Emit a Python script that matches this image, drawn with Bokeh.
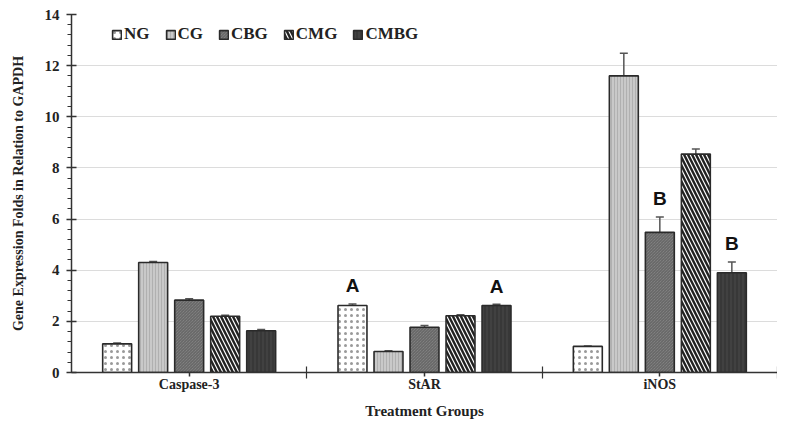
from bokeh.plotting import figure
from bokeh.models import (ColumnDataSource, Whisker, FixedTicker, Legend, LegendItem,
                          LabelSet)
from bokeh.embed import file_html
from bokeh.resources import INLINE
from bokeh.core.properties import value

genes = ["Caspase-3", "StAR", "iNOS"]
groups = ["NG", "CG", "CBG", "CMG", "CMBG"]
NG = [1.12, 2.62, 1.02]
CG = [4.30, 0.82, 11.60]
CBG = [2.83, 1.77, 5.48]
CMG = [2.20, 2.22, 8.54]
CMBG = [1.63, 2.62, 3.90]
NG_err = [0.03, 0.06, 0.02]
CG_err = [0.04, 0.03, 0.88]
CBG_err = [0.05, 0.07, 0.60]
CMG_err = [0.04, 0.04, 0.20]
CMBG_err = [0.05, 0.05, 0.42]
letters = {"NG": ["", "A", ""], "CBG": ["", "", "B"], "CMBG": ["", "A", "B"]}

values = [NG, CG, CBG, CMG, CMBG]
errs = [NG_err, CG_err, CBG_err, CMG_err, CMBG_err]

styles = [
    dict(fill_color="white", hatch_pattern=".", hatch_color="#9a9a9a", hatch_scale=6, hatch_weight=1.2),
    dict(fill_color="#c9c9c9", hatch_pattern="|", hatch_color="#b0b0b0", hatch_scale=3, hatch_weight=1),
    dict(fill_color="#8c8c8c", hatch_pattern="\\", hatch_color="#5e5e5e", hatch_scale=3, hatch_weight=1),
    dict(fill_color="white", hatch_pattern="\\", hatch_color="#222222", hatch_scale=8, hatch_weight=2.4),
    dict(fill_color="#383838", hatch_pattern="|", hatch_color="#4a4a4a", hatch_scale=4, hatch_weight=1),
]

offsets = [-0.306, -0.153, 0.0, 0.153, 0.306]
bar_w = 0.123

p = figure(width=777, height=427, x_range=(0, 3), y_range=(0, 14),
           output_backend="svg", toolbar_location=None,
           min_border_left=71, min_border_right=0, min_border_top=14, min_border_bottom=55)
p.outline_line_color = None

renderers = []
for i, g in enumerate(groups):
    xs = [k + 0.5 + offsets[i] for k in range(len(genes))]
    src = ColumnDataSource(dict(x=xs, top=values[i],
                                upper=[v + e for v, e in zip(values[i], errs[i])],
                                lower=[v - e for v, e in zip(values[i], errs[i])]))
    r = p.vbar(x="x", top="top", width=bar_w, source=src, line_color="#2a2a2a",
               line_width=1.6, **styles[i])
    renderers.append(r)
    w = Whisker(base="x", upper="upper", lower="lower", source=src,
                line_color="#555555", line_width=1.5)
    w.upper_head.size = 8
    w.lower_head.size = 8
    w.upper_head.line_color = "#555555"
    w.lower_head.line_color = "#555555"
    w.upper_head.line_width = 1.5
    w.lower_head.line_width = 1.5
    p.add_layout(w)
    if g in letters:
        ys = [v + e + 0.3 for v, e in zip(values[i], errs[i])]
        lsrc = ColumnDataSource(dict(x=xs, y=ys, t=letters[g]))
        p.add_layout(LabelSet(x="x", y="y", text="t", source=lsrc, text_align="center",
                              text_font=value("Liberation Sans"), text_font_style="bold",
                              text_font_size="19px", text_color="#111111"))

# axes
p.xaxis.ticker = FixedTicker(ticks=[0.5, 1.5, 2.5], minor_ticks=[1.0, 2.0, 3.0])
p.xaxis.major_label_overrides = {0.5: genes[0], 1.5: genes[1], 2.5: genes[2]}
p.xaxis.major_tick_in = 0
p.xaxis.major_tick_out = 4
p.xaxis.minor_tick_in = 6
p.xaxis.minor_tick_out = 6
p.xaxis.axis_label = "Treatment Groups"
p.xaxis.major_label_standoff = -2
p.xaxis.axis_label_standoff = 8

p.yaxis.ticker = FixedTicker(ticks=list(range(0, 15, 2)),
                             minor_ticks=[round(x * 0.4, 1) for x in range(0, 36)])
p.yaxis.major_tick_in = 5
p.yaxis.major_tick_out = 5
p.yaxis.minor_tick_in = 0
p.yaxis.minor_tick_out = 4
p.yaxis.axis_label = "Gene Expression Folds in Relation to GAPDH"
p.yaxis.major_label_standoff = 7
p.yaxis.axis_label_standoff = 16

for ax in (p.xaxis, p.yaxis):
    ax.axis_line_color = "#333333"
    ax.axis_line_width = 1.5
    ax.major_tick_line_color = "#333333"
    ax.minor_tick_line_color = "#333333"
    ax.major_tick_line_width = 1.5
    ax.minor_tick_line_width = 1.2
    ax.major_label_text_font = "Liberation Serif"
    ax.major_label_text_font_style = "bold"
    ax.major_label_text_color = "#222222"
    ax.axis_label_text_font = "Liberation Serif"
    ax.axis_label_text_font_style = "bold"
    ax.axis_label_text_color = "#222222"
p.xaxis.axis_label_text_font_size = "15px"
p.yaxis.axis_label_text_font_size = "14px"
p.xaxis.major_label_text_font_size = "14px"
p.yaxis.major_label_text_font_size = "15px"

p.xgrid.grid_line_color = None
p.ygrid.grid_line_color = "#dcdcdc"
p.ygrid.grid_line_width = 1.2

legend = Legend(items=[LegendItem(label=g, renderers=[r]) for g, r in zip(groups, renderers)],
                orientation="horizontal", location=(40, 328),
                glyph_width=11, glyph_height=11, label_standoff=2, spacing=15,
                label_text_font="Liberation Serif", label_text_font_style="bold",
                label_text_font_size="17px", label_text_color="#222222",
                border_line_color=None, background_fill_alpha=0, padding=4, margin=0)
p.add_layout(legend)

open("out.html", "w").write(file_html(p, INLINE))
